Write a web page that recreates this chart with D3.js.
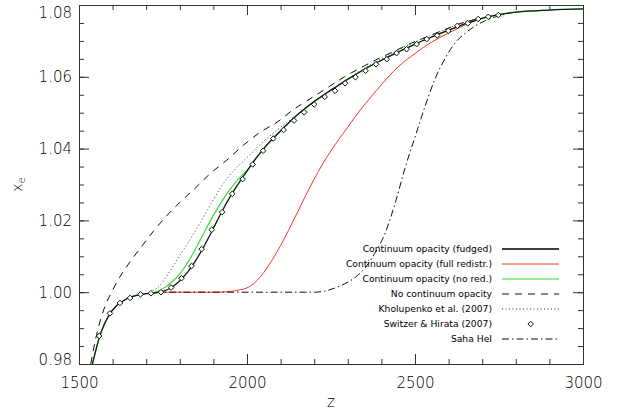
<!DOCTYPE html>
<html>
<head>
<meta charset="utf-8">
<title>xe vs z</title>
<script src="https://cdn.jsdelivr.net/npm/d3@7"></script>
<style>
body { margin: 0; background: #fff; }
text { font-family: "DejaVu Sans", sans-serif; fill: #000; }
.axis path, .axis line { stroke: #333; }
</style>
</head>
<body>
<svg class="chart" width="621" height="412"></svg>
<script>
// Continuum opacity (fudged) - black solid
var zFudged  = [1540, 1550, 1560, 1575, 1590, 1610, 1630, 1650, 1675, 1700, 1725, 1750, 1775, 1800, 1825, 1850, 1875, 1900, 1925, 1950, 1975, 2000, 2030, 2060, 2090, 2120, 2150, 2180, 2210, 2240, 2270, 2300, 2350, 2400, 2450, 2500, 2550, 2600, 2650, 2700, 2750, 2800, 2900, 3000];
var xeFudged = [0.9800, 0.9838, 0.9872, 0.9910, 0.9937, 0.9961, 0.9975, 0.9985, 0.9992, 0.9996, 0.9998, 1.0002, 1.0013, 1.0032, 1.0058, 1.0092, 1.0133, 1.0178, 1.0224, 1.0266, 1.0303, 1.0337, 1.0377, 1.0411, 1.0440, 1.0468, 1.0494, 1.0517, 1.0538, 1.0557, 1.0575, 1.0593, 1.0621, 1.0646, 1.0669, 1.0691, 1.0711, 1.0730, 1.0748, 1.0763, 1.0773, 1.0780, 1.0786, 1.0789];

// Continuum opacity (full redistr.) - red
var zFull  = [1725, 1750, 1800, 1900, 1950, 1975, 2000, 2025, 2050, 2075, 2100, 2125, 2150, 2175, 2200, 2225, 2250, 2275, 2300, 2335, 2370, 2400, 2450, 2500, 2550, 2600, 2650, 2700];
var xeFull = [0.9998, 1.0000, 1.0000, 1.0000, 1.0002, 1.0006, 1.0012, 1.0028, 1.0055, 1.0090, 1.0130, 1.0175, 1.0222, 1.0270, 1.0315, 1.0357, 1.0394, 1.0428, 1.0460, 1.0505, 1.0545, 1.0578, 1.0628, 1.0665, 1.0697, 1.0722, 1.0745, 1.0763];

// Continuum opacity (no red.) - green, where it leaves the black curve
var zNoRed  = [1715, 1730, 1750, 1775, 1800, 1825, 1850, 1875, 1900, 1925, 1950, 1975, 2000];
var xeNoRed = [0.9997, 1.0001, 1.0010, 1.0027, 1.0051, 1.0085, 1.0126, 1.0171, 1.0214, 1.0253, 1.0287, 1.0316, 1.0340];

// No continuum opacity - dashed
var zNoCont  = [1535, 1550, 1565, 1580, 1597, 1620, 1650, 1686, 1720, 1760, 1800, 1845, 1890, 1940, 1990, 2040, 2090, 2140, 2190, 2240, 2290, 2340, 2390, 2440, 2490, 2540, 2590, 2640, 2700];
var xeNoCont = [0.9800, 0.9872, 0.9926, 0.9967, 1.0000, 1.0040, 1.0082, 1.0127, 1.0168, 1.0212, 1.0250, 1.0289, 1.0330, 1.0368, 1.0410, 1.0446, 1.0474, 1.0510, 1.0540, 1.0570, 1.0600, 1.0626, 1.0650, 1.0672, 1.0694, 1.0713, 1.0732, 1.0750, 1.0764];

// Kholupenko et al. (2007) - dotted
var zKhol  = [1700, 1720, 1740, 1760, 1780, 1800, 1820, 1840, 1860, 1880, 1900, 1920, 1940, 1970, 2000, 2040, 2090, 2140, 2190, 2240, 2290, 2340, 2390, 2440, 2490, 2540, 2590, 2640, 2700];
var xeKhol = [0.9996, 1.0004, 1.0018, 1.0044, 1.0072, 1.0102, 1.0131, 1.0161, 1.0192, 1.0225, 1.0258, 1.0289, 1.0316, 1.0348, 1.0375, 1.0412, 1.0452, 1.0488, 1.0522, 1.0555, 1.0588, 1.0618, 1.0645, 1.0670, 1.0693, 1.0713, 1.0732, 1.0750, 1.0764];

// Switzer & Hirata (2007) - diamonds
var zSH  = [1560, 1592, 1622, 1652, 1683, 1714, 1744, 1774, 1805, 1835, 1865, 1895, 1926, 1956, 1987, 2017, 2048, 2078, 2109, 2140, 2170, 2200, 2231, 2262, 2292, 2323, 2353, 2384, 2416, 2445, 2475, 2505, 2535, 2566, 2599, 2626, 2657, 2688, 2718, 2748];
var xeSH = [0.9878, 0.9941, 0.9970, 0.9984, 0.9994, 0.9997, 1.0000, 1.0013, 1.0039, 1.0073, 1.0120, 1.0174, 1.0223, 1.0274, 1.0315, 1.0356, 1.0394, 1.0428, 1.0452, 1.0478, 1.0501, 1.0523, 1.0544, 1.0561, 1.0582, 1.0599, 1.0617, 1.0635, 1.0649, 1.0666, 1.0677, 1.0691, 1.0705, 1.0715, 1.0728, 1.0742, 1.0749, 1.0761, 1.0767, 1.0772];

// Saha HeI - dash-dot
var zSaha  = [1725, 1750, 2200, 2230, 2260, 2290, 2320, 2350, 2380, 2410, 2440, 2470, 2500, 2530, 2560, 2590, 2620, 2650, 2680, 2710, 2740, 2780];
var xeSaha = [0.9998, 1.0000, 1.0000, 1.0003, 1.0011, 1.0023, 1.0040, 1.0066, 1.0108, 1.0162, 1.0245, 1.0345, 1.0432, 1.0518, 1.0595, 1.0652, 1.0695, 1.0722, 1.0742, 1.0757, 1.0767, 1.0777];

var xTicks = [1500, 2000, 2500, 3000];
var yTicks = [0.98, 1.00, 1.02, 1.04, 1.06, 1.08];
var legendLabels = ["Continuum opacity (fudged)", "Continuum opacity (full redistr.)", "Continuum opacity (no red.)",
                    "No continuum opacity", "Kholupenko et al. (2007)", "Switzer & Hirata (2007)", "Saha HeI"];

function pairs(zs, vs){
	return zs.map(function(z, i){ return [z, vs[i]]; });
}

//set up chart
var margin = {top: 5, left: 79};
var width = 504;
var height = 359;

var svg = d3.select(".chart");
var chart = svg.append("g")
	.attr("transform", "translate(" + margin.left + "," + margin.top + ")");

var xChart = d3.scaleLinear().domain([1500, 3000]).range([0, width]);
var yChart = d3.scaleLinear().domain([0.98, 1.08]).range([height, 0]);

chart.append("clipPath").attr("id", "plotclip")
	.append("rect").attr("width", width).attr("height", height);

var line = d3.line()
	.x(function(d){ return xChart(d[0]); })
	.y(function(d){ return yChart(d[1]); })
	.curve(d3.curveMonotoneX);

var plot = chart.append("g").attr("clip-path", "url(#plotclip)");

// green runs under the black curve where the two agree
var fudged = pairs(zFudged, xeFudged);
var greenFull = fudged.filter(function(d){ return d[0] < zNoRed[0]; })
	.concat(pairs(zNoRed, xeNoRed))
	.concat(fudged.filter(function(d){ return d[0] > zNoRed[zNoRed.length - 1]; }));

var styles = [
	{color: "#ff3322", width: 1,   dash: null},
	{color: "#22e022", width: 1.1, dash: null},
	{color: "#111",    width: 1,   dash: "7,6"},
	{color: "#333",    width: 1,   dash: "1,2.5"},
	{color: "#111",    width: 1,   dash: "7,3,1.5,3"},
	{color: "#0a1f0a", width: 1.3, dash: null}
];
var series = [pairs(zFull, xeFull), greenFull, pairs(zNoCont, xeNoCont), pairs(zKhol, xeKhol), pairs(zSaha, xeSaha), fudged];

plot.selectAll(".curve")
	.data(series)
	.enter()
	.append("path")
	.attr("class", "curve")
	.attr("d", line)
	.attr("fill", "none")
	.attr("stroke", function(d, i){ return styles[i].color; })
	.attr("stroke-width", function(d, i){ return styles[i].width; })
	.attr("stroke-dasharray", function(d, i){ return styles[i].dash; });

var diamond = d3.symbol().type(d3.symbolDiamond2).size(20);
plot.selectAll(".sh")
	.data(pairs(zSH, xeSH))
	.enter()
	.append("path")
	.attr("class", "sh")
	.attr("d", diamond)
	.attr("transform", function(d){ return "translate(" + xChart(d[0]) + "," + yChart(d[1]) + ")"; })
	.attr("fill", "#fff")
	.attr("stroke", "#111")
	.attr("stroke-width", 1);

//axes: major + minor ticks on all four sides, pointing inward
var xMinor = d3.range(1500, 3001, 100);
var yMinor = d3.range(0, 21).map(function(i){ return 0.98 + i * 0.005; });

function addAxis(axisFn, scale, ticks, size, transform, labelled){
	var ax = axisFn(scale).tickValues(ticks).tickSizeInner(-size).tickSizeOuter(0);
	if(labelled){
		ax.tickFormat(labelled).tickPadding(axisFn === d3.axisBottom ? 13 : 7);
	}else{
		ax.tickFormat("");
	}
	return chart.append("g")
		.attr("class", "axis")
		.attr("transform", transform)
		.call(ax);
}

addAxis(d3.axisBottom, xChart, xMinor, 5, "translate(0," + height + ")", null);
addAxis(d3.axisBottom, xChart, xTicks, 10, "translate(0," + height + ")", d3.format("d"));
addAxis(d3.axisTop, xChart, xMinor, 5, "translate(0,0)", null);
addAxis(d3.axisTop, xChart, xTicks, 10, "translate(0,0)", null);
addAxis(d3.axisLeft, yChart, yMinor, 5, "translate(0,0)", null);
var yAxisG = addAxis(d3.axisLeft, yChart, yTicks, 10, "translate(0,0)", d3.format(".2f"));
addAxis(d3.axisRight, yChart, yMinor, 5, "translate(" + width + ",0)", null);
addAxis(d3.axisRight, yChart, yTicks, 10, "translate(" + width + ",0)", null);

chart.selectAll(".axis text")
	.style("font-size", "15px")
	.style("font-family", "DejaVu Sans, sans-serif")
	.style("font-weight", "200")
	.attr("fill", "#000");

// end labels are pulled inside the axis range, as in the original
yAxisG.selectAll("text")
	.attr("dy", function(d){
		if(d === 0.98) return "0.0em";
		if(d === 1.08) return "0.8em";
		return "0.32em";
	});

//titles
chart.append("text")
	.attr("x", width / 2)
	.attr("y", height + 43)
	.attr("text-anchor", "middle")
	.style("font-size", "15px")
	.style("font-weight", "200")
	.text("z");

var ytitle = chart.append("text")
	.attr("transform", "translate(-57," + (height / 2) + ") rotate(-90)")
	.attr("text-anchor", "middle")
	.style("font-size", "14px")
	.style("font-weight", "200");
ytitle.append("tspan").text("x");
ytitle.append("tspan").attr("dy", "0.3em").style("font-size", "10px").text("e");

//legend
var legend = chart.append("g").attr("transform", "translate(413,244)");
var legendStyles = [styles[5], styles[0], styles[1], styles[2], styles[3], null, styles[4]];

var rows = legend.selectAll(".row")
	.data(legendLabels)
	.enter()
	.append("g")
	.attr("class", "row")
	.attr("transform", function(d, i){ return "translate(0," + (i * 15) + ")"; });

rows.append("text")
	.attr("text-anchor", "end")
	.attr("dy", "0.35em")
	.style("font-size", "9.2px")
	.text(function(d){ return d; });

rows.each(function(d, i){
	var s = legendStyles[i];
	var g = d3.select(this);
	if(s){
		g.append("line")
			.attr("x1", 10).attr("x2", 67)
			.attr("stroke", i === 0 ? "#000" : s.color)
			.attr("stroke-width", s.width)
			.attr("stroke-dasharray", s.dash);
	}else{
		g.append("path")
			.attr("d", diamond)
			.attr("transform", "translate(38.7,0)")
			.attr("fill", "#fff")
			.attr("stroke", "#111");
	}
});
</script>
</body>
</html>
